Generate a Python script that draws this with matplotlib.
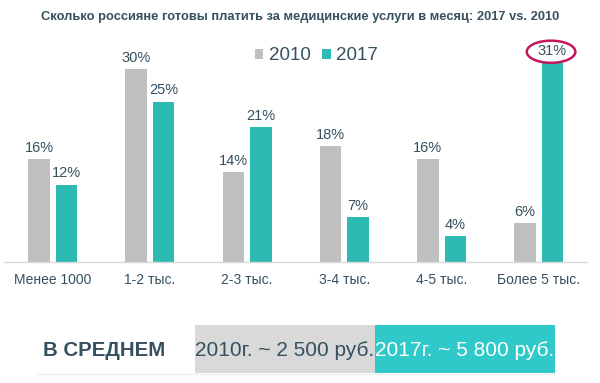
import matplotlib.pyplot as plt
from matplotlib.patches import Ellipse, Rectangle
import numpy as np

plt.rcParams['font.family'] = ['Liberation Sans', 'DejaVu Sans']

categories = ['Менее 1000', '1-2 тыс.', '2-3 тыс.', '3-4 тыс.', '4-5 тыс.', 'Более 5 тыс.']
v2010 = [16, 30, 14, 18, 16, 6]
v2017 = [12, 25, 21, 7, 4, 31]
series_names = ['2010', '2017']
title = 'Сколько россияне готовы платить за медицинские услуги в месяц: 2017 vs. 2010'
avg_label = 'В СРЕДНЕМ'
avg_2010 = '2010г. ~ 2 500 руб.'
avg_2017 = '2017г. ~ 5 800 руб.'

GRAY = '#BFBFBF'
TEAL = '#2DBAB5'
TXT = '#35505E'
W, H = 600, 383

fig = plt.figure(figsize=(6, 3.83), dpi=100)
base_y = 262
ax = fig.add_axes([4.15 / W, (H - base_y) / H, 583.2 / W, 224.7 / H])
x = np.arange(len(categories))
bw = 0.221
off = 0.1415
b1 = ax.bar(x - off, v2010, bw, color=GRAY, label=series_names[0])
b2 = ax.bar(x + off, v2017, bw, color=TEAL, label=series_names[1])
for bars, vals in ((b1, v2010), (b2, v2017)):
    for b, v in zip(bars, vals):
        ax.text(b.get_x() + b.get_width() / 2, v + 1.8, f'{v}%', ha='center', va='center',
                fontsize=10.5, color=TXT)
ax.set_xlim(-0.5, 5.5)
ax.set_ylim(0, 35)
ax.set_xticks(x)
ax.set_xticklabels(categories, fontsize=10, color=TXT)
ax.tick_params(axis='x', length=0, pad=8)
ax.set_yticks([])
for s in ax.spines.values():
    s.set_visible(False)
ax.spines['bottom'].set_visible(True)
ax.spines['bottom'].set_color('#D9D9D9')
ax.spines['bottom'].set_linewidth(1)

# highlight ellipse around the max label
i = int(np.argmax(v2017))
ax.add_patch(Ellipse((x[i] + off - 0.015, v2017[i] + 1.75), 0.5, 3.45, fill=False,
                     edgecolor='#C2185B', lw=1.8, clip_on=False))

leg = ax.legend(loc='center', bbox_to_anchor=(0.5356, 0.917), ncol=2, frameon=False,
                fontsize=13.5, handlelength=0.45, handleheight=0.45, handletextpad=0.3,
                columnspacing=0.6, borderaxespad=0, borderpad=0)
for t in leg.get_texts():
    t.set_color(TXT)

fig.text(0.5, 1 - 17 / H, title, ha='center', va='center', fontsize=9.3, fontweight='bold', color=TXT)

# bottom summary
fig.add_artist(Rectangle((195 / W, 1 - 373 / H), 180 / W, 48 / H, transform=fig.transFigure,
                         facecolor='#D9D9D9', edgecolor='none'))
fig.add_artist(Rectangle((375 / W, 1 - 373 / H), 180 / W, 48 / H, transform=fig.transFigure,
                         facecolor='#2FC9C9', edgecolor='none'))
fig.add_artist(plt.Line2D([36 / W, 555 / W], [1 - 374 / H] * 2, transform=fig.transFigure,
                          color='#EEEEEE', lw=1))
fig.text(104 / W, 1 - 350 / H, avg_label, ha='center', va='center', fontsize=14.7,
         fontweight='bold', color=TXT)
fig.text(285 / W, 1 - 350 / H, avg_2010, ha='center', va='center', fontsize=15, color=TXT)
fig.text(465 / W, 1 - 350 / H, avg_2017, ha='center', va='center', fontsize=15, color='white')

fig.savefig('out.png', dpi=100)
